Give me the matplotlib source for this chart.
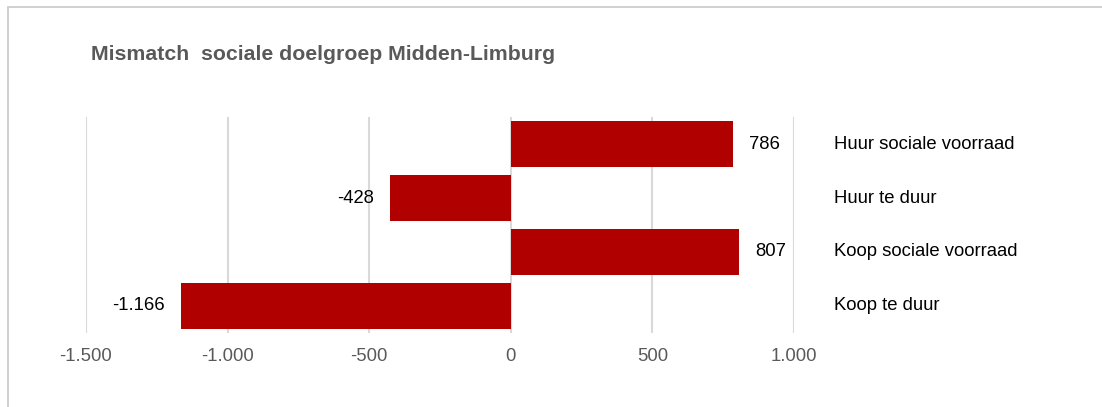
import matplotlib
matplotlib.use("Agg")
import matplotlib.pyplot as plt
from matplotlib.patches import Rectangle
import matplotlib.transforms as mtransforms

categories = ["Huur sociale voorraad", "Huur te duur", "Koop sociale voorraad", "Koop te duur"]
values = [786, -428, 807, -1166]
xticks = [-1500, -1000, -500, 0, 500, 1000]
title = "Mismatch  sociale doelgroep Midden-Limburg"

def nl(v):
    s = f"{abs(v):,}".replace(",", ".")
    return ("-" if v < 0 else "") + s

plt.rcParams['font.family'] = ['Liberation Sans', 'DejaVu Sans']

fig = plt.figure(figsize=(11.02, 4.07), dpi=100)
ax = fig.add_axes([86/1102, 1-333/407, (794-86)/1102, (333-117)/407])

y = list(range(len(categories)))
ax.barh(y, values, height=0.86, color="#B00000", zorder=3)
ax.set_xlim(-1500, 1000)
ax.set_ylim(len(categories)-0.5, -0.5)
ax.set_xticks(xticks)
ax.set_xticklabels([nl(v) for v in xticks], color="#595959", fontsize=13.3)
ax.tick_params(axis='x', length=0, pad=11)
ax.set_yticks([])
for s in ax.spines.values():
    s.set_visible(False)
ax.grid(axis='x', color="#D9D9D9", linewidth=1.5, zorder=0)

for yi, v in zip(y, values):
    off = mtransforms.offset_copy(ax.transData, fig=fig, x=(16 if v > 0 else -16), y=0, units='dots')
    ax.text(v, yi, nl(v), transform=off, ha='left' if v > 0 else 'right', va='center',
            fontsize=13.3, color="black")

blend = mtransforms.blended_transform_factory(ax.transAxes, ax.transData)
for yi, c in zip(y, categories):
    ax.text((834-86)/708, yi, c, transform=blend, ha='left', va='center', fontsize=13.3, color="black")

fig.text(91/1102, 1-55/407, title, fontsize=15.3, fontweight='bold', color="#595959", va='center', ha='left')

fig.patches.append(Rectangle((8/1102, -0.1), 1.2, 1-7/407+0.1, transform=fig.transFigure,
                             fill=False, edgecolor="#C8C8C8", linewidth=1.2))

fig.savefig("out.png", dpi=100)
